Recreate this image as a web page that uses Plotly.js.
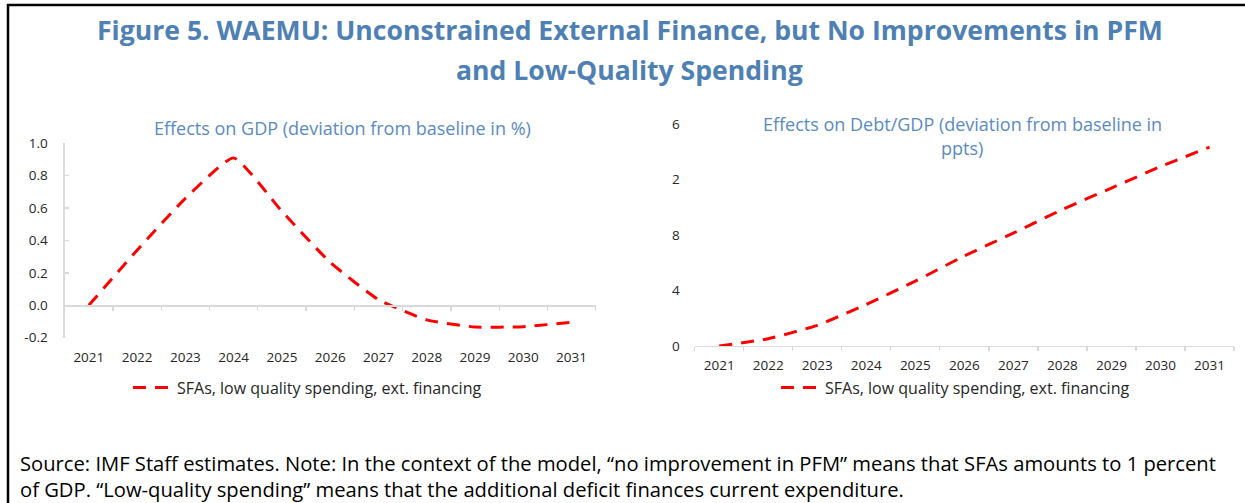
<!DOCTYPE html>
<html>
<head>
<meta charset="utf-8">
<script src="https://cdn.plot.ly/plotly-3.0.1.min.js"></script>
<style>
  html, body { margin: 0; padding: 0; background: #ffffff; }
  #chart { width: 1245px; height: 503px; }
</style>
</head>
<body>
<div id="chart"></div>
<script>
// ---- data ----
const years = [2021, 2022, 2023, 2024, 2025, 2026, 2027, 2028, 2029, 2030, 2031];
const yearLabels = ["2021", "2022", "2023", "2024", "2025", "2026", "2027", "2028", "2029", "2030", "2031"];
const gdpEffect = [0, 0.34, 0.66, 0.91, 0.58, 0.265, 0.035, -0.09, -0.134, -0.132, -0.105];
const debtEffect = [0, 0.53, 1.49, 3.0, 4.68, 6.5, 8.15, 9.85, 11.4, 12.95, 14.35];
const gdpTickVals = [-0.2, 0, 0.2, 0.4, 0.6, 0.8, 1.0];
const gdpTickText = ["-0.2", "0.0", "0.2", "0.4", "0.6", "0.8", "1.0"];
const debtTickVals = [0, 4, 8, 12, 16];
const debtTickText = ["0", "4", "8", "2", "6"];
const seriesName = "SFAs, low quality spending, ext. financing";
const mainTitle1 = "Figure 5. WAEMU: Unconstrained External Finance, but No Improvements in PFM";
const mainTitle2 = "and Low-Quality Spending";
const leftTitle = "Effects on GDP (deviation from baseline in %)";
const rightTitle1 = "Effects on Debt/GDP (deviation from baseline in";
const rightTitle2 = "ppts)";
const note1 = "Source: IMF Staff estimates. Note: In the context of the model, \u201cno improvement in PFM\u201d means that SFAs amounts to 1 percent";
const note2 = "of GDP. \u201cLow-quality spending\u201d means that the additional deficit finances current expenditure.";

// ---- layout helpers ----
const W = 1245, H = 503;
const px = x => x / W;
const py = y => 1 - y / H;
const FONT = '"Open Sans", "Noto Sans", sans-serif';
const RED = '#ff0000';
const AXIS = '#d9d9d9';
const TXT = '#262626';

const gdpRange = [-0.2, 1.0];
const debtRange = [0, 16];
const xRange = [2020.5, 2031.5];
const leftY = [py(337.7), py(143.3)];
const rightY = [py(346), py(124.3)];
const zeroPos = leftY[0] + (0 - gdpRange[0]) / (gdpRange[1] - gdpRange[0]) * (leftY[1] - leftY[0]);

const lineStyle = { color: RED, width: 3, dash: '13px,9px', shape: 'spline', smoothing: 0.45 };

const traces = [
  { x: years, y: gdpEffect, xaxis: 'x', yaxis: 'y', type: 'scatter', mode: 'lines',
    name: seriesName, line: lineStyle, legend: 'legend', hoverinfo: 'x+y' },
  { x: years, y: gdpEffect, xaxis: 'x3', yaxis: 'y', type: 'scatter', mode: 'lines',
    line: { width: 0 }, opacity: 0, showlegend: false, hoverinfo: 'skip' },
  { x: years, y: debtEffect, xaxis: 'x2', yaxis: 'y2', type: 'scatter', mode: 'lines',
    name: seriesName, line: lineStyle, legend: 'legend2', hoverinfo: 'x+y' },
  { x: years, y: debtEffect, xaxis: 'x4', yaxis: 'y2', type: 'scatter', mode: 'lines',
    line: { width: 0 }, opacity: 0, showlegend: false, hoverinfo: 'skip' }
];

const TICKSIZE = 13.5;
const labelAxis = (domain, anchor) => ({
  domain: domain, anchor: anchor, range: xRange, tickmode: 'array',
  tickvals: years, ticktext: yearLabels, ticks: 'outside', ticklen: 7,
  tickcolor: 'rgba(0,0,0,0)', showline: false, showgrid: false, zeroline: false,
  tickfont: { family: FONT, size: TICKSIZE, color: TXT }, fixedrange: true
});
const lineAxis = (over, anchor, pos) => {
  const a = {
    overlaying: over, range: xRange, tickmode: 'linear', tick0: 2020.5, dtick: 1,
    ticks: 'outside', ticklen: 4, tickcolor: AXIS, tickwidth: 1.3,
    showline: true, linecolor: AXIS, linewidth: 1.3, showticklabels: false,
    showgrid: false, zeroline: false, fixedrange: true
  };
  if (pos === undefined) { a.anchor = anchor; } else { a.anchor = 'free'; a.position = pos; }
  return a;
};

const ann = (text, x, y, size, color, opts) => Object.assign({
  text: text, x: x, y: y, xref: 'paper', yref: 'paper', showarrow: false,
  xanchor: 'center', yanchor: 'middle', font: { family: FONT, size: size, color: color }
}, opts || {});

const legendStyle = (xPix) => ({
  x: px(xPix), y: py(387.7), xanchor: 'left', yanchor: 'middle', orientation: 'h',
  itemwidth: 39, bgcolor: 'rgba(0,0,0,0)', font: { family: FONT, size: 16, color: TXT }
});

const layout = {
  width: W, height: H,
  margin: { l: 0, r: 0, t: 0, b: 0 },
  paper_bgcolor: '#ffffff', plot_bgcolor: 'rgba(0,0,0,0)',
  font: { family: FONT, color: TXT },
  showlegend: true,
  xaxis: labelAxis([px(64.7), px(595.7)], 'y'),
  xaxis3: lineAxis('x', null, zeroPos),
  yaxis: {
    domain: leftY, anchor: 'x', range: gdpRange, tickmode: 'array',
    tickvals: gdpTickVals, ticktext: gdpTickText, showline: true, linecolor: AXIS, linewidth: 1.3,
    ticks: 'inside', ticklen: 4, tickcolor: AXIS, tickwidth: 1.3, showgrid: false, zeroline: false,
    ticklabelstandoff: 13,
    tickfont: { family: FONT, size: TICKSIZE, color: TXT }, fixedrange: true
  },
  xaxis2: labelAxis([px(694.7), px(1234)], 'y2'),
  xaxis4: lineAxis('x2', 'y2'),
  yaxis2: {
    domain: rightY, anchor: 'x2', range: debtRange, tickmode: 'array',
    tickvals: debtTickVals, ticktext: debtTickText, showline: false, ticks: '',
    showgrid: false, zeroline: false, ticklabelstandoff: 14,
    tickfont: { family: FONT, size: TICKSIZE, color: TXT }, fixedrange: true
  },
  legend: legendStyle(128),
  legend2: legendStyle(776),
  annotations: [
    ann('<b>' + mainTitle1 + '</b>', px(630), py(30), 26.6, '#4e80b3'),
    ann('<b>' + mainTitle2 + '</b>', px(629), py(70), 26.6, '#4e80b3'),
    ann(leftTitle, px(342), py(128), 18, '#5a8bbf'),
    ann(rightTitle1, px(962), py(124), 18, '#5a8bbf'),
    ann(rightTitle2, px(962), py(148), 18, '#5a8bbf'),
    ann(note1 + '<br>' + note2, px(20), 0, 20.2, '#000000',
        { xanchor: 'left', yanchor: 'bottom', align: 'left', borderpad: 0, borderwidth: 0 })
  ],
  shapes: [
    { type: 'line', xref: 'paper', yref: 'paper', x0: px(8), x1: px(8), y0: py(4), y1: 0,
      line: { color: '#000000', width: 2.5 } },
    { type: 'line', xref: 'paper', yref: 'paper', x0: px(7), x1: 1, y0: py(5), y1: py(5),
      line: { color: '#000000', width: 2.5 } }
  ]
};

Plotly.newPlot('chart', traces, layout, { displayModeBar: false, staticPlot: true });
</script>
</body>
</html>
